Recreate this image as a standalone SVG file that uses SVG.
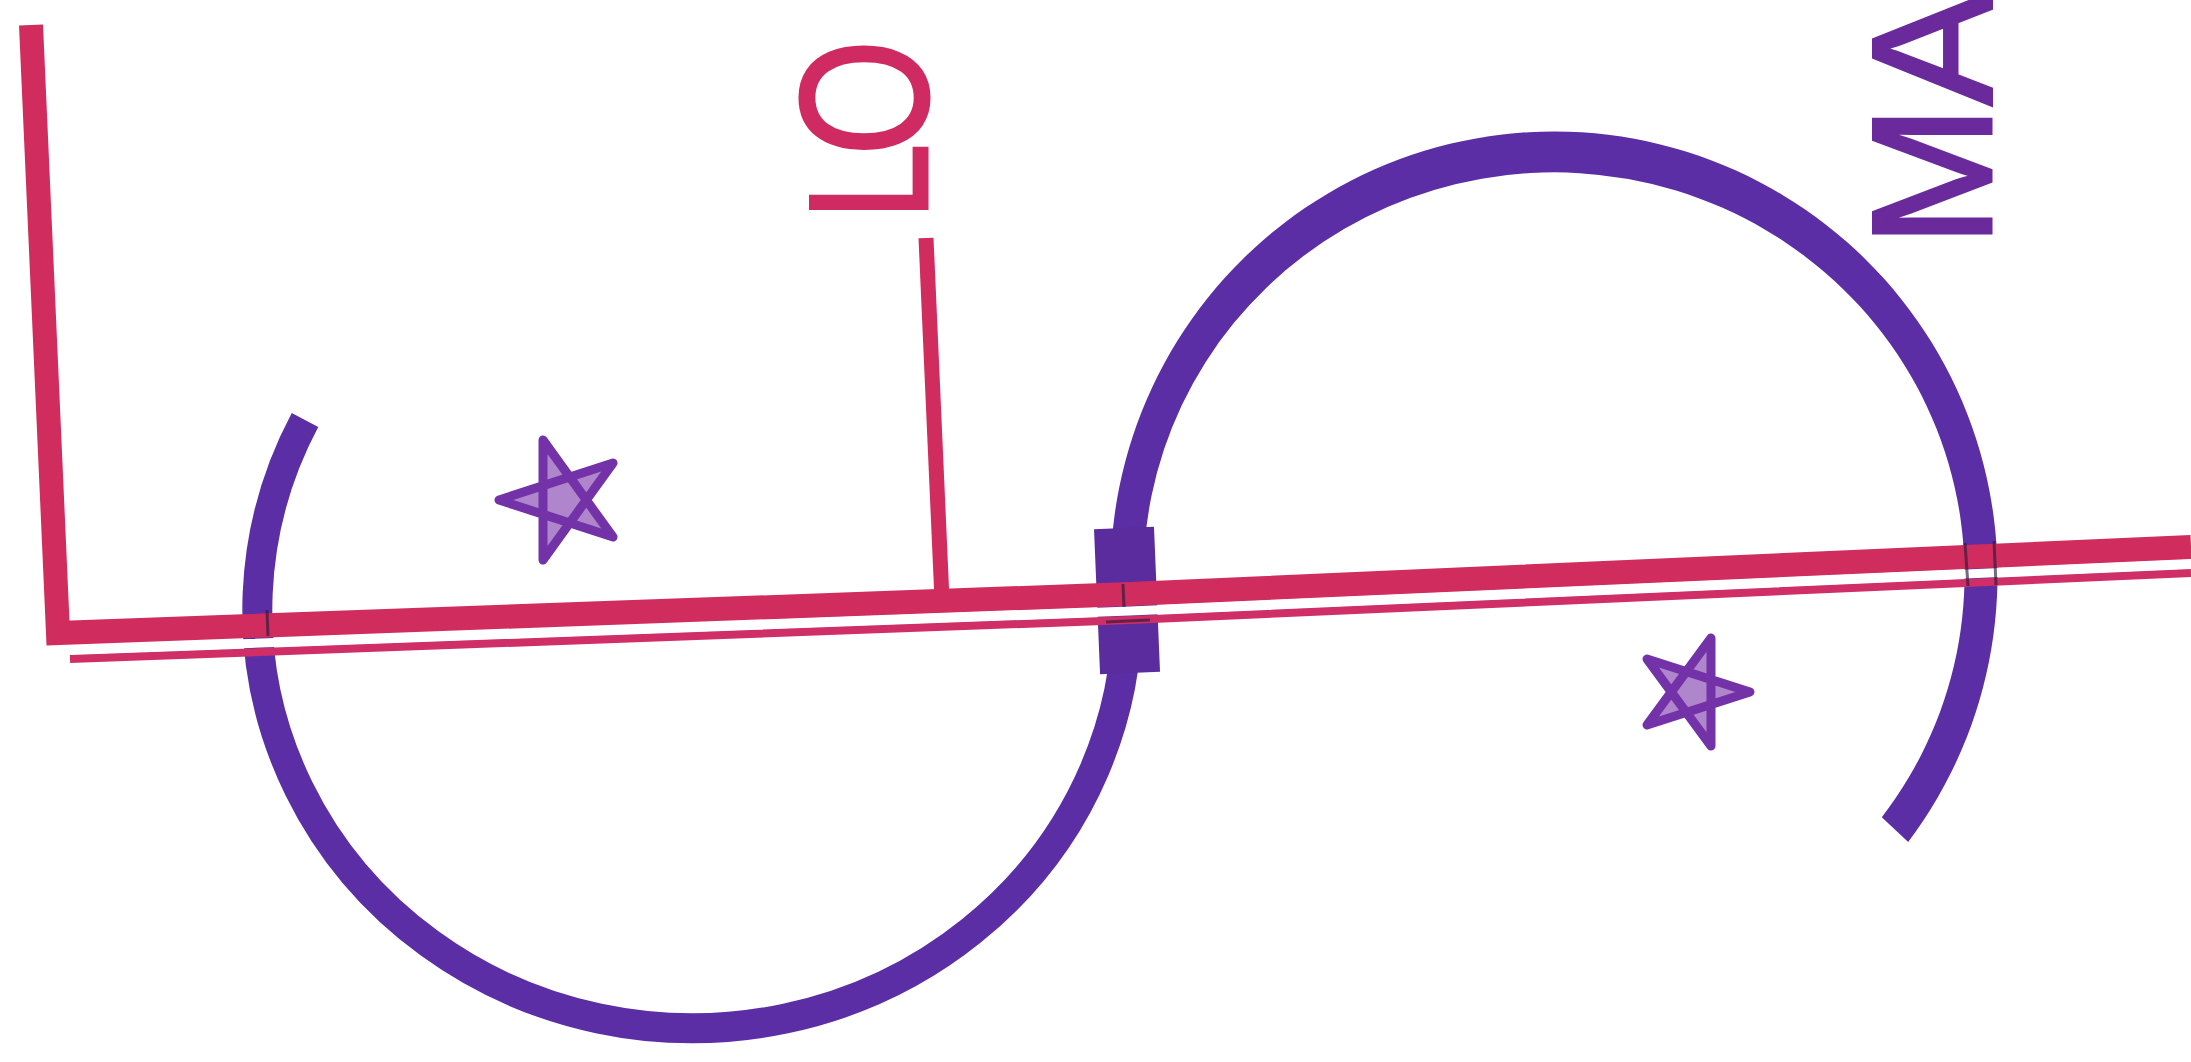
<svg xmlns="http://www.w3.org/2000/svg" width="2191" height="1062" viewBox="0 0 2191 1062">
  <defs>
    <style>
      .wall { fill: none; stroke: #d02c5e; stroke-linejoin: miter; stroke-linecap: butt; }
      .thin { fill: none; stroke: #cf2f66; stroke-width: 8; }
      .gap { fill: none; stroke: #ffffff; stroke-width: 9; }
      .arc { fill: none; stroke: #5c2ea6; stroke-linecap: butt; }
      .arcfill { fill: #5c2ea6; stroke: none; }
      .star { fill: #7a34aa; fill-opacity: 0.6; stroke: #7432a8; stroke-width: 9; stroke-linejoin: round; }
      .lbl { font-family: "Liberation Sans", Arial, sans-serif; font-size: 170px; stroke-width: 3; }
      .dark { fill: none; stroke: #2c1838; stroke-width: 3; stroke-opacity: 0.65; }
    </style>
  </defs>
  <rect x="0" y="0" width="2191" height="1062" fill="#ffffff"/>

  <g id="arcs">
    <path id="left-arc" class="arc" stroke-width="30" d="M 305 420 A 435 418 0 1 0 1127 594"/>
    <path id="right-arc" class="arcfill" d="M 1110.9 593.6 A 443.5 443.5 0 1 1 1908.2 841.9 L 1881.8 817.2 A 410.5 402.5 0 1 0 1143.9 591.9 Z"/>
    <rect id="junction" x="1097" y="528" width="60" height="145" fill="#5a2c9e" transform="rotate(-2.4 1127 600)"/>
  </g>

  <g id="walls">
    <path id="main-wall" class="wall" stroke-width="24" d="M 31 25 L 58 633 L 1130 594 L 2191 547"/>
    <path id="thin-wall" class="thin" d="M 70 659 L 1130 620 L 2191 573"/>
    <path id="wall-gap" class="gap" d="M 70 650 L 1130 611 L 2191 564"/>
    <path id="tick" class="wall" stroke-width="15" d="M 926 238 L 942 600"/>
  </g>

  <g id="marks">
    <path class="dark" d="M 267 610 L 268 636"/>
    <path class="dark" d="M 1123 584 L 1124 607"/>
    <path class="dark" d="M 1106 622 L 1150 620"/>
    <path class="dark" d="M 1965 543 L 1968 586"/>
    <path class="dark" d="M 1994 541 L 1996 585"/>
  </g>

  <g id="stars">
    <polygon id="star-left" class="star" points="499,500 613,463 543,560 543,440 613,537"/>
    <polygon id="star-right" class="star" points="1750,692 1647,725 1711,638 1711,746 1647,659"/>
  </g>

  <g id="labels">
    <text id="label-lo" class="lbl" fill="#cf2b62" stroke="#cf2b62" transform="translate(927 220) rotate(-90) scale(0.82 1)"><tspan font-size="168">L</tspan><tspan font-size="182" dx="-15">O</tspan></text>
    <text id="label-ma" class="lbl" font-size="172" fill="#6a2a9c" stroke="#6a2a9c" transform="translate(1991 247) rotate(-90)">MA</text>
  </g>
</svg>
